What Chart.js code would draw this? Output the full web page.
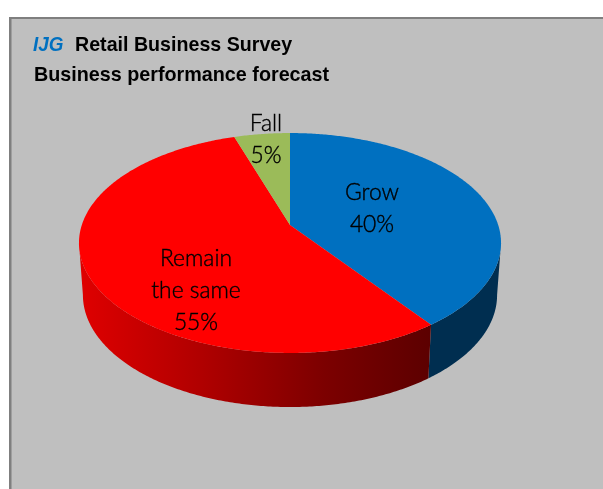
<!DOCTYPE html>
<html>
<head>
<meta charset="utf-8">
<style>
  html, body { margin: 0; padding: 0; background: #ffffff; }
  #wrap { width: 603px; height: 489px; }
</style>
<script src="https://cdn.jsdelivr.net/npm/chart.js@4/dist/chart.umd.js"></script>
</head>
<body>
<div id="wrap"><canvas id="chart" width="603" height="489"></canvas></div>
<script>
// Survey shares, clockwise from twelve o'clock
const categories = ['Grow', 'Remain the same', 'Fall'];
const shares = [40, 55, 5];
const sliceColors = ['#0070c0', '#ff0000', '#9bbb59'];
const labelLines = [['Grow', '40%'], ['Remain', 'the same', '55%'], ['Fall', '5%']];
const titleBrand = 'IJG';
const titleLines = ['Retail Business Survey', 'Business performance forecast'];

// Pie tilt: a perspective projection of the unit circle onto the page
const TILT = 0.1636;
const TOP_RING = { ax: 0.9253, ay: 0.4756, dy: 0 };
const BASE_RING = { ax: 0.908, ay: 0.4844, dy: 51.7 };
// Silhouette angles: the side wall is only seen between these
const WALL_FROM = Math.asin(TILT);
const WALL_TO = Math.PI - WALL_FROM;

function project(el, ring, angle) {
  const u = Math.cos(angle), v = Math.sin(angle), d = 1 - TILT * v;
  return [
    el.x + el.outerRadius * ring.ax * u / d,
    el.y + ring.dy + el.outerRadius * ring.ay * v / d
  ];
}

function traceRing(ctx, el, ring, a0, a1, moveFirst) {
  const steps = Math.max(4, Math.ceil(Math.abs(a1 - a0) / 0.01));
  for (let i = 0; i <= steps; i++) {
    const p = project(el, ring, a0 + (a1 - a0) * i / steps);
    if (i === 0 && moveFirst) ctx.moveTo(p[0], p[1]); else ctx.lineTo(p[0], p[1]);
  }
}

function wallFill(ctx, color) {
  if (color === '#ff0000') {
    const g = ctx.createLinearGradient(78, 0, 430, 0);
    g.addColorStop(0, '#e00000');
    g.addColorStop(0.35, '#b00000');
    g.addColorStop(0.7, '#7c0000');
    g.addColorStop(1, '#5c0000');
    return g;
  }
  return '#002e50';
}

// Arc element that paints a tilted slice with its side wall
class TiltedArc extends Chart.ArcElement {
  draw(ctx) {
    const color = this.options.backgroundColor;
    const a0 = Math.max(this.startAngle, WALL_FROM);
    const a1 = Math.min(this.endAngle, WALL_TO);
    ctx.save();
    if (a1 > a0) {
      ctx.beginPath();
      traceRing(ctx, this, TOP_RING, a0, a1, true);
      traceRing(ctx, this, BASE_RING, a1, a0, false);
      ctx.closePath();
      ctx.fillStyle = wallFill(ctx, color);
      ctx.fill();
    }
    ctx.beginPath();
    ctx.moveTo(this.x, this.y);
    traceRing(ctx, this, TOP_RING, this.startAngle, this.endAngle, false);
    ctx.closePath();
    ctx.fillStyle = color;
    ctx.fill();
    ctx.restore();
  }
}
TiltedArc.id = 'tiltedArc';
TiltedArc.defaults = Chart.ArcElement.defaults;

class TiltedPieController extends Chart.PieController {}
TiltedPieController.id = 'tiltedPie';
TiltedPieController.defaults = { dataElementType: 'tiltedArc' };
TiltedPieController.overrides = Chart.PieController.overrides;

// Text squeezed horizontally about its anchor
function squeezedText(ctx, text, x, y, squeeze, outline) {
  ctx.save();
  ctx.translate(x, y);
  ctx.scale(squeeze, 1);
  ctx.fillText(text, 0, 0);
  if (outline) {
    ctx.strokeStyle = ctx.fillStyle;
    ctx.lineWidth = outline;
    ctx.strokeText(text, 0, 0);
  }
  ctx.restore();
}

// Grey panel with its top and left rule
const panel = {
  id: 'panel',
  beforeDraw(chart) {
    const { ctx, width, height } = chart;
    ctx.save();
    ctx.fillStyle = '#ffffff';
    ctx.fillRect(0, 0, width, height);
    ctx.fillStyle = '#bfbfbf';
    ctx.fillRect(9, 17, width - 9, height - 17);
    ctx.fillStyle = '#7f7f7f';
    ctx.fillRect(9, 17, width - 9, 2);
    ctx.fillRect(9, 17, 2.5, height - 17);
    ctx.restore();
  }
};

// Two-line heading with the blue brand mark
const heading = {
  id: 'heading',
  afterDraw(chart) {
    const { ctx } = chart;
    ctx.save();
    ctx.textBaseline = 'alphabetic';
    ctx.textAlign = 'left';
    ctx.font = 'italic bold 21px "Liberation Sans"';
    ctx.fillStyle = '#0070c0';
    squeezedText(ctx, titleBrand, 33, 51, 0.9);
    ctx.font = 'bold 21px "Liberation Sans"';
    ctx.fillStyle = '#000000';
    squeezedText(ctx, titleLines[0], 75, 51, 0.935);
    squeezedText(ctx, titleLines[1], 34, 81, 0.94);
    ctx.restore();
  }
};

// Slice captions, one line at a time
const captionAnchors = [[372, 192], [196, 258], [266, 123]];
const captions = {
  id: 'captions',
  afterDatasetsDraw(chart) {
    const { ctx } = chart;
    ctx.save();
    ctx.font = '300 24px Lato';
    ctx.fillStyle = '#000000';
    ctx.textAlign = 'center';
    ctx.textBaseline = 'middle';
    labelLines.forEach((lines, i) => {
      lines.forEach((line, j) => {
        squeezedText(ctx, line, captionAnchors[i][0], captionAnchors[i][1] + j * 32, 0.95, 0.4);
      });
    });
    ctx.restore();
  }
};

Chart.register(TiltedArc, TiltedPieController);

new Chart(document.getElementById('chart'), {
  type: 'tiltedPie',
  data: {
    labels: categories,
    datasets: [{ data: shares, backgroundColor: sliceColors, borderWidth: 0 }]
  },
  options: {
    responsive: false,
    animation: false,
    layout: { padding: { left: 0, right: 23, top: 0, bottom: 39 } },
    plugins: { legend: { display: false }, tooltip: { enabled: false }, title: { display: false } }
  },
  plugins: [panel, captions, heading]
});
</script>
</body>
</html>
